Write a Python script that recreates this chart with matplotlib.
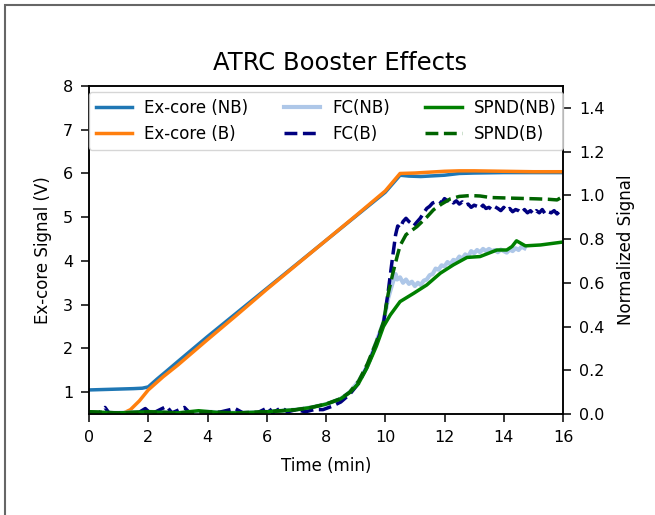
import matplotlib
matplotlib.use("Agg")
import matplotlib.pyplot as plt
from matplotlib.patches import Rectangle

# ex-core detector signal (V)
t_ex_nb = [0, 0.5, 1.0, 1.5, 1.8, 2.0, 2.3, 2.6, 3.0, 4.0, 5.0, 6.0, 7.0, 8.0, 9.0, 10.0,
           10.5, 10.8, 11.2, 12.0, 12.5, 13, 14, 15, 16]
ex_nb = [1.05, 1.06, 1.07, 1.08, 1.09, 1.12, 1.3, 1.47, 1.7, 2.27, 2.82, 3.37, 3.92, 4.47,
         5.02, 5.57, 5.96, 5.94, 5.93, 5.96, 6.0, 6.01, 6.02, 6.02, 6.02]
t_ex_b = [0, 0.5, 1.1, 1.4, 1.7, 2.0, 2.5, 3.0, 4.0, 5.0, 6.0, 7.0, 8.0, 9.0, 10.0, 10.5,
          11.0, 12.0, 12.5, 13, 14, 15, 16]
ex_b = [0.5, 0.5, 0.5, 0.6, 0.8, 1.05, 1.35, 1.62, 2.2, 2.77, 3.35, 3.91, 4.47, 5.03, 5.6,
        6.0, 6.01, 6.05, 6.06, 6.06, 6.05, 6.04, 6.04]

# fission chamber, normalized
t_fc_nb = [0, 1, 2, 3, 4, 5, 6, 7, 7.5, 8, 8.5, 8.8, 9.1, 9.4, 9.7, 9.94, 10.1, 10.25,
           10.35, 10.4, 10.5, 10.6, 10.7, 10.8, 10.9, 11.0, 11.1, 11.2, 11.3, 11.4, 11.5,
           11.6, 11.7, 11.8, 11.9, 12.0, 12.1, 12.2, 12.3, 12.4, 12.5, 12.6, 12.7, 12.8,
           12.9, 13.0, 13.1, 13.2, 13.3, 13.4, 13.5, 13.6, 13.7, 13.8, 13.9, 14.0, 14.1,
           14.2, 14.3, 14.4, 14.5, 14.6, 14.7]
fc_nb = [0.005, 0.005, 0.01, 0.005, 0.01, 0.005, 0.01, 0.02, 0.03, 0.045, 0.07, 0.1, 0.15,
         0.22, 0.33, 0.42, 0.53, 0.6, 0.64, 0.615, 0.625, 0.6, 0.615, 0.595, 0.605, 0.585,
         0.6, 0.59, 0.61, 0.615, 0.635, 0.64, 0.665, 0.66, 0.68, 0.675, 0.695, 0.685, 0.705,
         0.7, 0.72, 0.71, 0.73, 0.72, 0.745, 0.735, 0.75, 0.74, 0.755, 0.745, 0.755, 0.745,
         0.75, 0.74, 0.752, 0.745, 0.738, 0.752, 0.745, 0.758, 0.75, 0.765, 0.758]

t_fc_b = [0.0, 0.3, 0.54, 0.7, 1.2, 1.6, 1.9, 2.1, 2.62, 2.8, 3.22, 3.4, 3.8, 4.3, 4.93, 5.2,
          5.6, 6.05, 6.2, 6.5, 6.7, 7.0, 7.3, 7.6, 7.9, 8.2, 8.5, 8.8, 9.1, 9.4, 9.7, 9.94,
          10.1, 10.25, 10.35, 10.42, 10.5, 10.6, 10.7, 10.8, 10.9, 10.96, 11.05, 11.18, 11.3,
          11.4, 11.5, 11.6, 11.7, 11.8, 11.9, 12.0, 12.1, 12.2, 12.3, 12.4, 12.5, 12.6, 12.7,
          12.8, 12.9, 13.0, 13.1, 13.2, 13.3, 13.4, 13.5, 13.6, 13.7, 13.8, 13.9, 14.0, 14.1,
          14.2, 14.3, 14.4, 14.5, 14.6, 14.7, 14.8, 14.9, 15.0, 15.1, 15.2, 15.3, 15.4, 15.5,
          15.6, 15.7, 15.8, 15.9, 16.0]
fc_b = [0.005, 0.0, 0.03, 0.0, 0.005, 0.0, 0.025, 0.0, 0.035, 0.005, 0.03, 0.005, 0.01, 0.005,
        0.025, 0.005, 0.0, 0.03, 0.005, 0.03, 0.01, 0.02, 0.01, 0.02, 0.02, 0.035, 0.055,
        0.09, 0.14, 0.22, 0.32, 0.415, 0.56, 0.72, 0.82, 0.86, 0.85, 0.88, 0.895, 0.88, 0.87,
        0.86, 0.875, 0.895, 0.92, 0.94, 0.95, 0.965, 0.97, 0.975, 0.965, 0.985, 0.975, 0.98,
        0.965, 0.975, 0.96, 0.97, 0.955, 0.96, 0.945, 0.955, 0.95, 0.94, 0.955, 0.94, 0.945,
        0.935, 0.948, 0.94, 0.93, 0.945, 0.93, 0.94, 0.925, 0.935, 0.93, 0.92, 0.935, 0.92,
        0.93, 0.915, 0.93, 0.92, 0.935, 0.915, 0.925, 0.92, 0.93, 0.915, 0.93, 0.925]

# SPND, normalized
t_spnd_nb = [0, 1, 2, 3, 3.7, 4.5, 5, 6, 6.5, 7, 7.5, 8, 8.5, 8.82, 9.1, 9.38, 9.7, 9.94,
             10.17, 10.5, 10.96, 11.4, 11.86, 12.3, 12.76, 13.2, 13.77, 14.1, 14.28, 14.43,
             14.73, 15.24, 15.97]
spnd_nb = [0.01, 0.005, 0.01, 0.005, 0.015, 0.005, 0.005, 0.01, 0.015, 0.02, 0.03, 0.045,
           0.07, 0.1, 0.14, 0.21, 0.31, 0.4, 0.453, 0.514, 0.552, 0.59, 0.644, 0.682, 0.716,
           0.72, 0.75, 0.75, 0.766, 0.792, 0.769, 0.773, 0.786]
t_spnd_b = [0, 1, 2, 3, 4, 5, 6, 6.5, 7, 7.5, 8, 8.5, 8.8, 9.1, 9.4, 9.7, 9.94, 10.1, 10.25,
            10.4, 10.5, 10.7, 11.07, 11.4, 11.63, 11.9, 12.2, 12.5, 12.87, 13.2, 13.55, 14.3,
            15.1, 15.5, 15.8, 16]
spnd_b = [0.01, 0.005, 0.01, 0.005, 0.01, 0.005, 0.01, 0.015, 0.02, 0.03, 0.045, 0.07, 0.1,
          0.15, 0.23, 0.33, 0.42, 0.55, 0.64, 0.72, 0.77, 0.82, 0.857, 0.9, 0.934, 0.96,
          0.984, 0.995, 0.999, 0.997, 0.99, 0.987, 0.984, 0.982, 0.979, 0.995]

fig = plt.figure(figsize=(6.55, 5.15), dpi=100)
ax1 = fig.add_axes([89 / 655, 1 - 414 / 515, 474 / 655, 328 / 515])
ax2 = ax1.twinx()

l1, = ax1.plot(t_ex_nb, ex_nb, color="#1f77b4", lw=2.5, label="Ex-core (NB)")
l2, = ax1.plot(t_ex_b, ex_b, color="#ff7f0e", lw=2.5, label="Ex-core (B)")
l3, = ax2.plot(t_fc_nb, fc_nb, color="#aec7e8", lw=3, label="FC(NB)")
l4, = ax2.plot(t_fc_b, fc_b, color="navy", lw=2.5, ls="--", label="FC(B)")
l5, = ax2.plot(t_spnd_nb, spnd_nb, color="green", lw=2.5, label="SPND(NB)")
l6, = ax2.plot(t_spnd_b, spnd_b, color="darkgreen", lw=2.5, ls="--", label="SPND(B)")

ax1.set_xlim(0, 16)
ax1.set_ylim(0.5, 8)
ax2.set_ylim(0, 1.5)
ax1.set_xticks(range(0, 17, 2))
ax1.set_yticks(range(1, 9))
ax2.set_yticks([0.0, 0.2, 0.4, 0.6, 0.8, 1.0, 1.2, 1.4])
for ax in (ax1, ax2):
    ax.tick_params(labelsize=11.5, length=6, width=1.1, pad=5.5)
    for sp in ax.spines.values():
        sp.set_linewidth(1.1)
ax1.set_xlabel("Time (min)", fontsize=12, labelpad=9)
ax1.set_ylabel("Ex-core Signal (V)", fontsize=12, labelpad=8)
ax2.set_ylabel("Normalized Signal", fontsize=12, labelpad=9)

ax2.legend(handles=[l1, l2, l3, l4, l5, l6], ncol=3, loc="upper left", mode="expand",
           bbox_to_anchor=(0, 0, 1, 0.982), borderaxespad=0, fontsize=12,
           handlelength=2.2, handletextpad=0.7)

fig.text(340 / 655, 1 - 63 / 515, "ATRC Booster Effects", ha="center", va="center", fontsize=17.5)

# outer frame
fig.patches.append(Rectangle((5 / 655, -0.5), 2, 1.5 - 5 / 515, transform=fig.transFigure,
                             fill=False, edgecolor="0.4", lw=1.5))

fig.savefig("out.png", dpi=100)
